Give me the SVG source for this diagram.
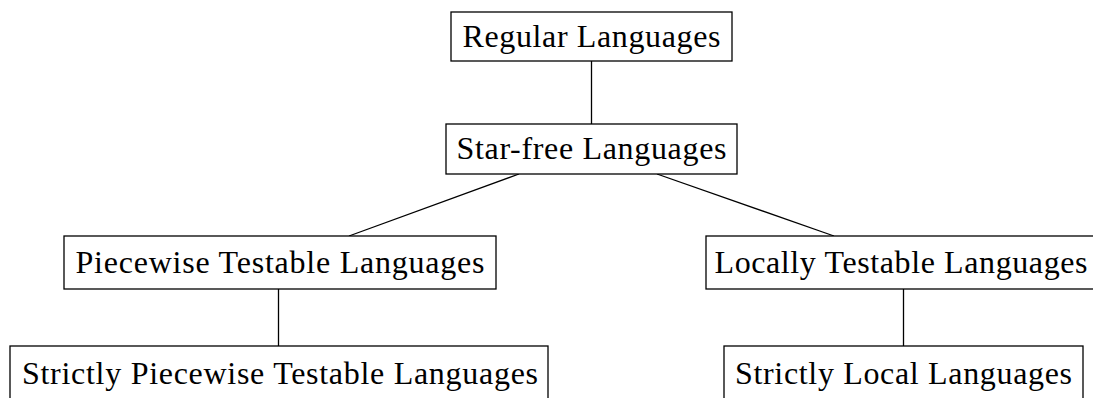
<svg xmlns="http://www.w3.org/2000/svg" width="1093" height="398" viewBox="0 0 1093 398">
<style>
.box{fill:#fff;stroke:#000;stroke-width:1.3}
.lbl{font-family:"Liberation Serif","DejaVu Serif",serif;font-size:32px;fill:#000;text-anchor:middle}
.edge{stroke:#000;stroke-width:1.3;fill:none}
</style>
<rect width="1093" height="398" fill="#fff"/>
<g id="connectors">
<line class="edge" x1="591.5" y1="61" x2="591.5" y2="124"/>
<line class="edge" x1="519" y1="174" x2="349" y2="236"/>
<line class="edge" x1="657" y1="174" x2="834" y2="236"/>
<line class="edge" x1="278.5" y1="289" x2="278.5" y2="346"/>
<line class="edge" x1="903.5" y1="289" x2="903.5" y2="346"/>
</g>
<g id="n1"><rect class="box" x="451" y="12" width="281" height="49"/><text class="lbl" x="591.5" y="47" textLength="258">Regular Languages</text></g>
<g id="n2"><rect class="box" x="446" y="124" width="291" height="50"/><text class="lbl" x="591.5" y="159" textLength="270">Star-free Languages</text></g>
<g id="n3"><rect class="box" x="64" y="236" width="432" height="53"/><text class="lbl" x="280" y="273" textLength="409">Piecewise Testable Languages</text></g>
<g id="n4"><rect class="box" x="706" y="236" width="392" height="53"/><text class="lbl" x="901" y="273" textLength="373">Locally Testable Languages</text></g>
<g id="n5"><rect class="box" x="10" y="346" width="538" height="60"/><text class="lbl" x="280" y="384" textLength="516">Strictly Piecewise Testable Languages</text></g>
<g id="n6"><rect class="box" x="724" y="346" width="359" height="60"/><text class="lbl" x="903.5" y="384" textLength="337">Strictly Local Languages</text></g>
</svg>
